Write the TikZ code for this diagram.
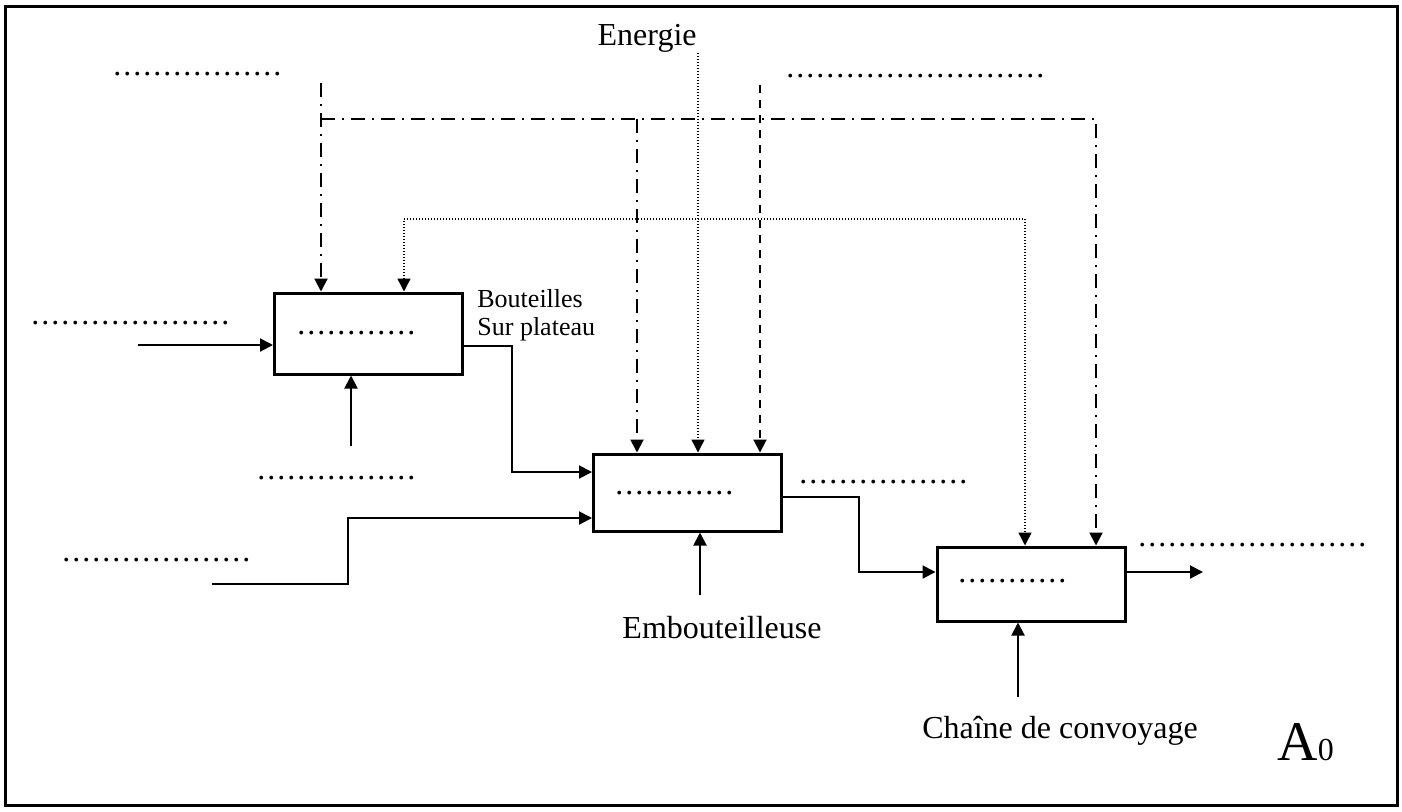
\documentclass[tikz,border=0pt]{standalone}
\usepackage{fontspec}
\setmainfont{Liberation Serif}
\usetikzlibrary{arrows.meta,calc}
\newcommand{\dotrow}[1]{\foreach \i in {1,...,#1}{\makebox[5pt]{.}}}
\begin{document}
\begin{tikzpicture}[x=0.5pt,y=-0.5pt,
  box/.style={draw,line width=1.5pt,minimum width=94pt,inner sep=0pt},
  conn/.style={line width=1pt},
  arr/.style={-{Triangle[length=6.5pt,width=6.5pt]}},
  dashdotline/.style={line width=1pt,dash pattern=on 7pt off 3.5pt on 1pt off 3.5pt},
  dashline/.style={line width=1pt,dash pattern=on 4pt off 3.5pt},
  dotline/.style={line width=0.7pt,dash pattern=on 0.6pt off 0.9pt},
  dotstxt/.style={anchor=base west,inner sep=0pt,font=\fontsize{16}{18}\selectfont},
  lbl/.style={inner sep=0pt,font=\fontsize{16}{18}\selectfont}]
\useasboundingbox (0,0) rectangle (1402,811);
\draw[line width=1.5pt] (5,6) rectangle (1397,805);

% boxes
\node[box,minimum height=40.5pt] (b1) at (368.5,333.5) {};
\node[box,minimum height=38.5pt] (b2) at (687.5,492.5) {};
\node[box,minimum height=37pt] (b3) at (1031,584) {};

% dotted placeholders
\node[dotstxt] (t1) at (112,75) {\dotrow{17}};
\node[dotstxt] (t2) at (785,77) {\dotrow{26}};
\node[dotstxt] (t3) at (30,324) {\dotrow{20}};
\node[dotstxt] (t4) at (256,479) {\dotrow{16}};
\node[dotstxt] (t5) at (61,561) {\dotrow{19}};
\node[dotstxt] (t6) at (798,483) {\dotrow{17}};
\node[dotstxt] (t7) at (1137,546) {\dotrow{23}};
\node[dotstxt] (n1) at (296,334) {\dotrow{12}};
\node[dotstxt] (n2) at (614,494) {\dotrow{12}};
\node[dotstxt] (n3) at (957,582) {\dotrow{11}};

% labels
\node[lbl,anchor=base east] (en) at (697,45) {Energie};
\node[inner sep=0pt,anchor=base west,font=\fontsize{13}{14}\selectfont] (bt1) at (477,307) {Bouteilles};
\node[inner sep=0pt,anchor=base west,font=\fontsize{13}{14}\selectfont] (bt2) at (477,335) {Sur plateau};
\node[lbl,anchor=base] (emb) at (722,638) {Embouteilleuse};
\node[lbl,anchor=base] (cha) at (1060,738) {Chaîne de convoyage};
\node[inner sep=0pt,anchor=base west] (a0) at (1277,760) {\fontsize{28}{30}\selectfont A\fontsize{16}{18}\selectfont 0};

% coordinates
\coordinate (c1) at (321,83);
\coordinate (cj) at (321,119);
\coordinate (cm) at (637,119);
\coordinate (cr) at (1096,119);
\coordinate (d0) at (760,85);
\coordinate (e0) at (698,53);
\coordinate (p1) at (404,219);
\coordinate (p2) at (1025,219);
\coordinate (i1) at (138,345);
\coordinate (m1) at (351,446);
\coordinate (i2) at (212,584);
\coordinate (m2) at (700,595);
\coordinate (m3) at (1018,697);
\coordinate (o3) at (1203,572);

% dash-dot controls
\draw[dashdotline,arr] (c1) -- (c1 |- b1.north);
\draw[dashdotline,arr] (cj) -- (cr) -- (cr |- b3.north);
\draw[dashdotline,arr] (cm) -- (cm |- b2.north);
% dashed control
\draw[dashline,arr] (d0) -- (d0 |- b2.north);
% energie
\draw[dotline,arr] (e0) -- (e0 |- b2.north);
% dotted control
\draw[dotline,{Triangle[length=6.5pt,width=6.5pt]}-{Triangle[length=6.5pt,width=6.5pt]}] (p1 |- b1.north) -- (p1) -- (p2) -- (p2 |- b3.north);

% solid flows
\draw[conn,arr] (i1) -- (i1 -| b1.west);
\draw[conn,arr] (m1) -- (m1 |- b1.south);
\draw[conn,arr] ([yshift=-6.25pt]b1.east) -- ++(48,0) |- ([yshift=10.25pt]b2.west);
\draw[conn,arr] (i2) -- ++(136,0) |- ([yshift=-12.75pt]b2.west);
\draw[conn,arr] (m2) -- (m2 |- b2.south);
\draw[conn,arr] ([yshift=-2.25pt]b2.east) -- ++(76,0) |- ([yshift=6pt]b3.west);
\draw[conn,arr] ([yshift=6pt]b3.east) -- (o3);
\draw[conn,arr] (m3) -- (m3 |- b3.south);
\end{tikzpicture}
\end{document}
